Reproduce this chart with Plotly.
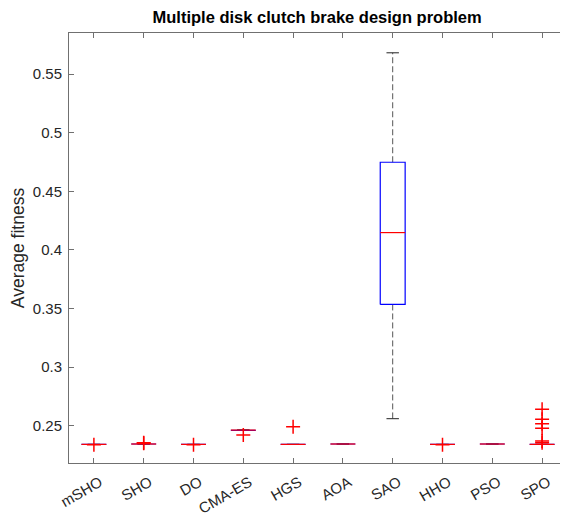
import plotly.graph_objects as go

# ---- data ----
algorithms = ["mSHO", "SHO", "DO", "CMA-ES", "HGS", "AOA", "SAO", "HHO", "PSO", "SPO"]
q1_vals      = [0.2341, 0.2344, 0.2341, 0.2461, 0.2341, 0.2344, 0.3535, 0.2341, 0.2344, 0.2341]
median_vals  = [0.2341, 0.2344, 0.2341, 0.2463, 0.2341, 0.2344, 0.4148, 0.2341, 0.2344, 0.2341]
q3_vals      = [0.2341, 0.2344, 0.2341, 0.2465, 0.2341, 0.2344, 0.4748, 0.2341, 0.2344, 0.2341]
lower_whisk  = [0.2341, 0.2344, 0.2341, 0.2461, 0.2341, 0.2344, 0.2560, 0.2341, 0.2344, 0.2341]
upper_whisk  = [0.2341, 0.2344, 0.2341, 0.2465, 0.2341, 0.2344, 0.5682, 0.2341, 0.2344, 0.2341]
outliers = [
    [0.2338],
    [0.2355, 0.2350],
    [0.2338],
    [0.2421],
    [0.2492],
    [],
    [],
    [0.2338],
    [],
    [0.2640, 0.2555, 0.2517, 0.2478, 0.2370, 0.2355],
]
y_ticks = [0.25, 0.30, 0.35, 0.40, 0.45, 0.50, 0.55]
y_tick_text = ["0.25", "0.3", "0.35", "0.4", "0.45", "0.5", "0.55"]
title_text = "Multiple disk clutch brake design problem"
y_title = "Average fitness"

BOX_HALF = 0.25
CAP_HALF = 0.125
FONT = "Liberation Sans, Arial, Helvetica, sans-serif"

positions = list(range(1, len(algorithms) + 1))

wx, wy, cx, cy, bx, by, mx, my, ox, oy = [], [], [], [], [], [], [], [], [], []
for p, a, b, c, lo, hi, outs in zip(positions, q1_vals, median_vals, q3_vals,
                                     lower_whisk, upper_whisk, outliers):
    wx += [p, p, None, p, p, None]
    wy += [c, hi, None, a, lo, None]
    cx += [p - CAP_HALF, p + CAP_HALF, None, p - CAP_HALF, p + CAP_HALF, None]
    cy += [hi, hi, None, lo, lo, None]
    bx += [p - BOX_HALF, p + BOX_HALF, p + BOX_HALF, p - BOX_HALF, p - BOX_HALF, None]
    by += [a, a, c, c, a, None]
    mx += [p - BOX_HALF, p + BOX_HALF, None]
    my += [b, b, None]
    for o in outs:
        ox.append(p)
        oy.append(o)

fig = go.Figure()
fig.add_trace(go.Scatter(x=wx, y=wy, mode="lines",
                         line=dict(color="#555555", width=1, dash="6px,3px"),
                         hoverinfo="skip", showlegend=False))
fig.add_trace(go.Scatter(x=cx, y=cy, mode="lines",
                         line=dict(color="#222222", width=1),
                         hoverinfo="skip", showlegend=False))
fig.add_trace(go.Scatter(x=bx, y=by, mode="lines",
                         line=dict(color="#0000ff", width=1.2),
                         hoverinfo="skip", showlegend=False))
fig.add_trace(go.Scatter(x=mx, y=my, mode="lines",
                         line=dict(color="#ff0000", width=1.2),
                         hoverinfo="skip", showlegend=False))
fig.add_trace(go.Scatter(x=ox, y=oy, mode="markers",
                         marker=dict(symbol="cross-thin", size=10,
                                     line=dict(color="#ff0000", width=1.5)),
                         hoverinfo="skip", showlegend=False))

axis_common = dict(showline=True, linecolor="#707070", linewidth=1, mirror="ticks",
                   ticks="inside", ticklen=5, tickcolor="#707070", showgrid=False,
                   zeroline=False, automargin=False,
                   tickfont=dict(family=FONT, size=15, color="#262626"))

# the page body keeps an 8px default margin, so the figure is 8px smaller
fig.update_layout(
    width=560, height=508,
    margin=dict(l=61, r=1, t=24.5, b=53),
    paper_bgcolor="white", plot_bgcolor="white",
    title=dict(text="<b>" + title_text + "</b>", x=0.552, xanchor="center",
               y=0.982, yanchor="middle", automargin=False,
               font=dict(family=FONT, size=16.5, color="#000000")),
    xaxis=dict(range=[0.5, len(algorithms) + 0.5], tickvals=positions, ticktext=algorithms,
               tickangle=-30, ticklabelstandoff=4, ticklabelshift=6, **axis_common),
    yaxis=dict(range=[0.2182, 0.5851], tickvals=y_ticks, ticktext=y_tick_text,
               ticklabelstandoff=3,
               title=dict(text=y_title, standoff=5,
                          font=dict(family=FONT, size=17.5, color="#262626")),
               **axis_common),
)

fig.write_html("out.html")
